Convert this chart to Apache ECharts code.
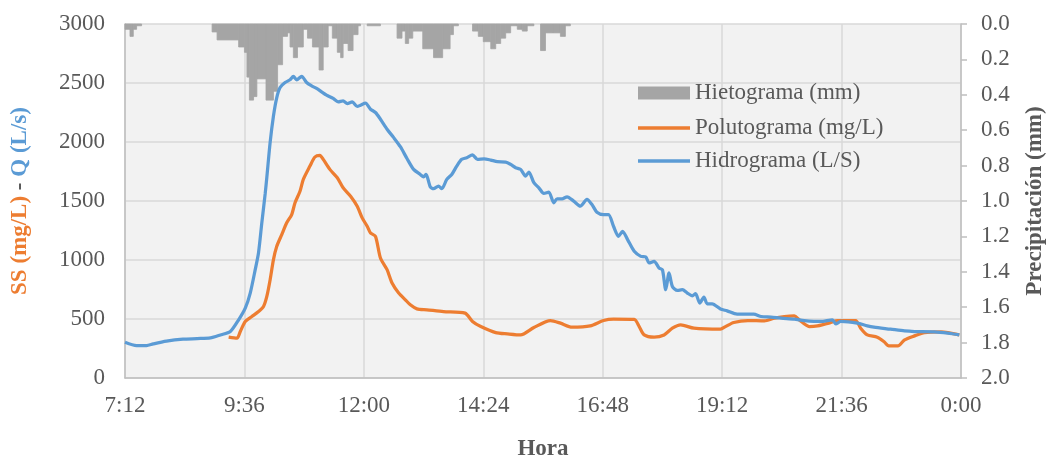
<!DOCTYPE html>
<html><head><meta charset="utf-8">
<script src="https://cdn.jsdelivr.net/npm/echarts@6/dist/echarts.min.js"></script>
<style>html,body{margin:0;padding:0;background:#fff}#c{width:1049px;height:456px}</style>
</head><body><div id="c"></div>
<script>
// Time values in minutes from midnight
const xTicks = [432, 576, 720, 864, 1008, 1152, 1296, 1440];

// Hydrograph Q (L/s)
const hidroT = [432,446,458,466,482,502,519,535,547,559,569,577,583,589,593,597,601,603,607,611,615,619,625,631,635,639,645,651,657,663,669,675,683,689,695,700,706,712,716,722,728,734,740,748,756,764,772,780,788,792,795,800,804,810,814,820,826,832,838,844,851,857,865,873,881,891,897,903,909,915,919,925,931,937,943,949,953,959,965,973,981,989,995,1001,1009,1015,1021,1027,1032,1038,1046,1054,1060,1064,1070,1076,1080,1084,1088,1092,1098,1104,1110,1116,1120,1125,1130,1134,1140,1150,1158,1170,1190,1199,1211,1223,1239,1251,1271,1285,1289,1295,1315,1327,1335,1355,1372,1384,1408,1424,1438];
const hidroQ = [303,275,275,289,312,329,334,340,365,394,493,592,720,918,1062,1317,1560,1700,1997,2221,2377,2462,2504,2527,2556,2527,2556,2504,2476,2454,2425,2397,2369,2340,2348,2326,2340,2301,2312,2329,2278,2250,2193,2108,2037,1960,1860,1768,1725,1705,1725,1621,1604,1626,1604,1683,1725,1796,1853,1867,1890,1853,1858,1847,1833,1830,1810,1782,1768,1711,1745,1655,1612,1564,1575,1485,1519,1519,1536,1499,1456,1513,1470,1405,1385,1385,1286,1201,1243,1173,1074,1031,1025,975,989,932,918,748,890,776,742,748,720,697,714,635,686,629,629,584,569,541,541,521,516,507,499,487,479,493,459,479,465,442,431,414,399,394,391,380,365];

// Pollutograph SS (mg/L)
const poluT = [557,567,571,577,585,593,599,603,607,611,615,621,627,633,637,643,647,655,661,667,671,679,688,695,704,712,718,724,728,734,740,748,754,762,770,776,784,796,816,842,851,861,879,893,909,925,945,957,971,993,1009,1021,1046,1052,1058,1070,1082,1092,1102,1118,1150,1156,1166,1183,1203,1215,1227,1239,1245,1257,1267,1283,1291,1313,1319,1327,1339,1347,1353,1364,1372,1384,1396,1416,1438];
const poluSS = [346,337,394,479,521,563,606,691,833,1003,1116,1215,1315,1385,1485,1583,1683,1796,1873,1887,1853,1768,1697,1612,1541,1456,1357,1286,1229,1201,1017,918,805,720,663,620,586,578,563,550,479,436,385,374,365,428,487,465,431,442,487,499,496,436,365,346,365,422,450,422,414,435,470,487,484,507,521,527,493,436,442,470,487,487,422,365,346,309,272,272,323,357,385,391,365];

// Hyetograph (mm): interval start, interval end (minutes), depth
const rainStart = [432,438,442,446,537,543,569,576,579,582,587,591,602,611,616,622,628,631,635,640,647,652,658,666,671,677,682,688,692,695,701,707,713,724,760,766,770,774,779,791,804,815,824,828,851,858,864,873,879,885,891,897,905,911,917,933,939,948,957,963];
const rainEnd   = [438,442,446,452,543,569,576,579,582,587,591,602,611,616,622,628,631,635,640,647,652,658,666,671,677,682,688,692,695,701,707,713,716,740,766,770,774,779,791,804,815,824,828,834,858,864,873,879,885,891,897,905,911,917,925,939,948,957,963,969];
const rainMm    = [0.03,0.07,0.03,0.01,0.045,0.09,0.13,0.16,0.30,0.43,0.41,0.31,0.43,0.38,0.23,0.07,0.05,0.13,0.19,0.13,0.03,0.08,0.13,0.26,0.13,0.01,0.08,0.16,0.19,0.11,0.15,0.06,0.01,0.01,0.08,0.04,0.11,0.08,0.04,0.14,0.19,0.14,0.06,0.01,0.04,0.07,0.10,0.14,0.11,0.08,0.05,0.01,0.03,0.04,0.01,0.15,0.05,0.05,0.07,0.01];

const FONT = 'Liberation Serif';
const TXT = '#595959';
const FS = 23;

const fmtTime = v => { const h = Math.floor(v/60)%24; const m = Math.round(v%60); return h + ':' + (m<10?'0':'') + m; };

const chart = echarts.init(document.getElementById('c'), null, {renderer:'canvas'});
const rainData = rainStart.map((s,i)=>[s, rainEnd[i], rainMm[i]]);

const legendBase = {orient:'vertical', left:633, itemWidth:52, itemGap:0,
  textStyle:{fontFamily:FONT, fontSize:FS, color:TXT, lineHeight:26}, selectedMode:false};

chart.setOption({
  animation:false,
  backgroundColor:'#ffffff',
  grid:{left:125, right:88, top:24, bottom:78, show:true, backgroundColor:'#F2F2F2', borderWidth:0},
  legend:[
    Object.assign({}, legendBase, {top:75, itemHeight:13, data:[{name:'Hietograma (mm)', icon:'rect'}]}),
    Object.assign({}, legendBase, {top:110, itemHeight:3.5, data:[{name:'Polutograma (mg/L)', icon:'rect'}]}),
    Object.assign({}, legendBase, {top:143, itemHeight:3.5, data:[{name:'Hidrograma (L/S)', icon:'rect'}]})
  ],
  xAxis:{type:'value', min:432, max:1440, interval:144,
    axisLine:{show:true, lineStyle:{color:'#BFBFBF', width:1.5}},
    axisTick:{show:false},
    axisLabel:{formatter:fmtTime, fontFamily:FONT, fontSize:FS, color:TXT, margin:16},
    splitLine:{show:true, lineStyle:{color:'#D9D9D9', width:1.5}}
  },
  yAxis:[
    {type:'value', min:0, max:3000, interval:500, position:'left',
      axisLine:{show:true, lineStyle:{color:'#BFBFBF', width:1.5}},
      axisTick:{show:false},
      axisLabel:{formatter:v=>String(v), fontFamily:FONT, fontSize:FS, color:TXT, margin:20},
      splitLine:{show:true, lineStyle:{color:'#D9D9D9', width:1.5}}},
    {type:'value', min:0, max:2, interval:0.2, inverse:true, position:'right',
      axisLine:{show:true, lineStyle:{color:'#BFBFBF', width:1.5}},
      axisTick:{show:true, inside:false, length:6, lineStyle:{color:'#BFBFBF', width:1.5}},
      axisLabel:{formatter:v=>v.toFixed(1), fontFamily:FONT, fontSize:FS, color:TXT, margin:20},
      splitLine:{show:false}}
  ],
  graphic:[
    {type:'text', x:20, y:201, rotation:Math.PI/2,
      style:{text:'{o|SS (mg/L)}{d| - }{b|Q (L/s)}', align:'center', verticalAlign:'middle',
        rich:{o:{fill:'#ED7D31', font:'bold '+FS+'px '+FONT},
              d:{fill:TXT, font:'bold '+FS+'px '+FONT},
              b:{fill:'#5B9BD5', font:'bold '+FS+'px '+FONT}}}},
    {type:'text', x:1035, y:201, rotation:Math.PI/2,
      style:{text:'Precipitación (mm)', align:'center', verticalAlign:'middle', fill:TXT, font:'bold '+FS+'px '+FONT}},
    {type:'text', x:543, y:449, style:{text:'Hora', align:'center', verticalAlign:'middle', fill:TXT, font:'bold '+FS+'px '+FONT}}
  ],
  series:[
    {name:'Hietograma (mm)', type:'custom', xAxisIndex:0, yAxisIndex:1,
      itemStyle:{color:'#A5A5A5'},
      encode:{x:[0,1], y:2},
      data:rainData,
      renderItem:(params, api)=>{
        const p0 = api.coord([api.value(0), 0]);
        const p1 = api.coord([api.value(1), api.value(2)]);
        return {type:'rect', shape:{x:p0[0], y:p0[1], width:p1[0]-p0[0], height:p1[1]-p0[1]},
          style:{fill:'#A5A5A5', stroke:'#A5A5A5', lineWidth:0.8}};
      }},
    {name:'Polutograma (mg/L)', type:'line', yAxisIndex:0, showSymbol:false, symbol:'none', smooth:0.25,
      lineStyle:{color:'#ED7D31', width:3.25}, itemStyle:{color:'#ED7D31'},
      data:poluT.map((t,i)=>[t, poluSS[i]])},
    {name:'Hidrograma (L/S)', type:'line', yAxisIndex:0, showSymbol:false, symbol:'none', smooth:0.25,
      lineStyle:{color:'#5B9BD5', width:3.25}, itemStyle:{color:'#5B9BD5'},
      data:hidroT.map((t,i)=>[t, hidroQ[i]])}
  ]
});
</script></body></html>
